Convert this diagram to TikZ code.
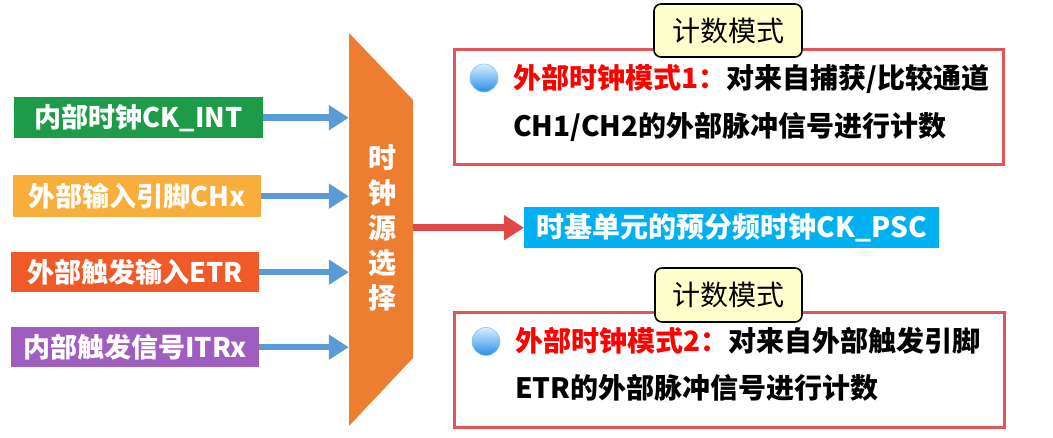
\documentclass[tikz,border=0pt]{standalone}
\usepackage{fontspec}
\newfontfamily\cjk{Noto Sans CJK SC}
\usetikzlibrary{arrows.meta}
\definecolor{cgreen}{HTML}{1E9B48}
\definecolor{cyellow}{HTML}{F9AE3B}
\definecolor{cred}{HTML}{F05A28}
\definecolor{cpurple}{HTML}{A05DC0}
\definecolor{cblue}{HTML}{5B9BD5}
\definecolor{corange}{HTML}{ED7D31}
\definecolor{carrowred}{HTML}{E04848}
\definecolor{ccyan}{HTML}{00B0F0}
\definecolor{cborder}{HTML}{E05555}
\definecolor{clabel}{HTML}{FFFFCC}
\definecolor{cballtop}{HTML}{D8EEFF}
\definecolor{cballbot}{HTML}{2A8EE8}
\definecolor{cballedge}{HTML}{8CC4F2}
\tikzset{
  srcbox/.style={fill=#1, inner sep=0pt, text=white, font=\cjk\bfseries\fontsize{27}{30}\selectfont, anchor=north west},
  bluearr/.style={draw=cblue, line width=6.5pt, -{Triangle[length=20pt,width=24pt]}},
  redarr/.style={draw=carrowred, line width=6.5pt, -{Triangle[length=20pt,width=24pt]}},
  modebox/.style={draw=cborder, line width=3pt, fill=white, anchor=north west, inner sep=0pt},
  modelabel/.style={draw=black, line width=1.6pt, rounded corners=7pt, fill=clabel, inner sep=0pt, font=\cjk\fontsize{28}{30}\selectfont},
  modetext/.style={anchor=base west, inner sep=0pt, font=\cjk\bfseries\fontsize{28}{30}\selectfont},
  bullet/.style={top color=cballtop, bottom color=cballbot, draw=cballedge, line width=0.6pt},
}
\begin{document}
\begin{tikzpicture}[x=1pt,y=-1pt]
\useasboundingbox (0,0) rectangle (1053,438);
% source boxes
\node[srcbox=cgreen, minimum width=249pt, minimum height=41pt] (int) at (14,97) {内部时钟CK\_INT};
\node[srcbox=cyellow, minimum width=248pt, minimum height=42pt] (chx) at (13,175) {外部输入引脚CHx};
\node[srcbox=cred, minimum width=248pt, minimum height=40pt] (etr) at (11,252) {外部触发输入ETR};
\node[srcbox=cpurple, minimum width=248pt, minimum height=40pt] (itr) at (11,327) {内部触发信号ITRx};
% selector
\fill[corange] (349,33) -- (413,100) -- (413,358) -- (349,426) -- cycle;
\node[inner sep=0pt, minimum width=64pt, minimum height=393pt] (sel) at (381,229.5) {};
\node[text=white, font=\cjk\bfseries\fontsize{28}{35}\selectfont, align=center, inner sep=0pt] (seltext) at (382,228) {时\\钟\\源\\选\\择};
% input arrows
\draw[bluearr] (int.east) -- (int.east -| sel.west);
\draw[bluearr] (chx.east) -- (chx.east -| sel.west);
\draw[bluearr] (etr.east) -- (etr.east -| sel.west);
\draw[bluearr] (itr.east) -- (itr.east -| sel.west);
% output
\node[fill=ccyan, text=white, font=\cjk\bfseries\fontsize{28}{30}\selectfont, inner sep=0pt, minimum width=415pt, minimum height=41pt, anchor=north west] (psc) at (524,207) {时基单元的预分频时钟CK\_PSC};
\draw[redarr] (sel.east |- psc.west) -- (psc.west);
% mode 1
\node[modebox, minimum width=549pt, minimum height=115pt] (m1) at (453,48) {};
\node[modelabel, minimum width=148pt, minimum height=53pt] (l1) at (728,30.5) {计数模式};
\shade[bullet] (484,78) circle (14pt);
\node[modetext] (m1a) at (513,89) {{\color{red}外部时钟模式1：}对来自捕获/比较通道};
\node[modetext] (m1b) at (513,137) {CH1/CH2的外部脉冲信号进行计数};
% mode 2
\node[modebox, minimum width=550pt, minimum height=115pt] (m2) at (453,311) {};
\node[modelabel, minimum width=147pt, minimum height=54pt] (l2) at (728.5,295) {计数模式};
\shade[bullet] (486,341.5) circle (14pt);
\node[modetext] (m2a) at (515,352) {{\color{red}外部时钟模式2：}对来自外部触发引脚};
\node[modetext] (m2b) at (515,399) {ETR的外部脉冲信号进行计数};
\end{tikzpicture}
\end{document}
